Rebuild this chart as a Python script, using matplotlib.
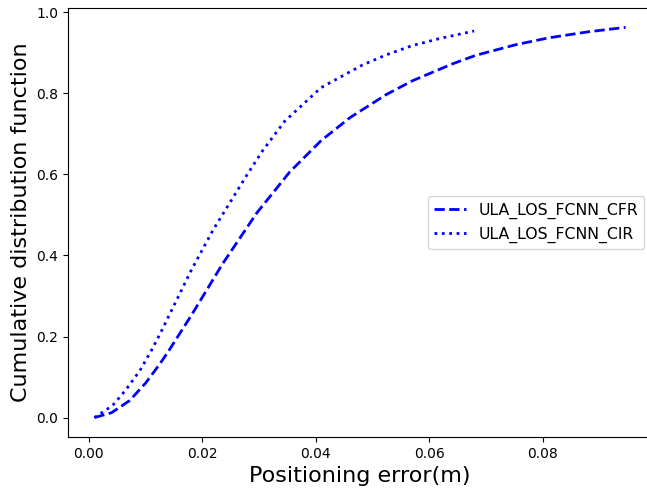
import matplotlib
matplotlib.use('Agg')
import matplotlib.pyplot as plt
import numpy as np

# CDF curves (positioning error in m, cdf value)
cfr_err = [0.0010, 0.0040, 0.0072, 0.0100, 0.0125, 0.0140, 0.0181, 0.0236, 0.0296,
           0.0354, 0.0409, 0.0460, 0.0524, 0.0570, 0.0641, 0.0682, 0.0752, 0.0810,
           0.0880, 0.0946]
cfr_cdf = [0.000, 0.012, 0.042, 0.085, 0.132, 0.163, 0.253, 0.380, 0.505,
           0.606, 0.683, 0.740, 0.797, 0.831, 0.873, 0.894, 0.920, 0.937,
           0.952, 0.963]

cir_err = [0.0010, 0.0042, 0.0065, 0.0090, 0.0110, 0.0125, 0.0160, 0.0181, 0.0219,
           0.0248, 0.0277, 0.0306, 0.0345, 0.0409, 0.0482, 0.0524, 0.0570, 0.0620,
           0.0679]
cir_cdf = [0.000, 0.030, 0.068, 0.116, 0.165, 0.205, 0.305, 0.365, 0.463,
           0.529, 0.595, 0.658, 0.731, 0.814, 0.870, 0.895, 0.918, 0.936,
           0.954]

fig = plt.figure(figsize=(6.47, 4.9), dpi=100)
ax = fig.add_axes([0.105, 0.108, 0.903, 0.876])
ax.plot(cfr_err, cfr_cdf, 'b--', linewidth=2, label='ULA_LOS_FCNN_CFR')
ax.plot(cir_err, cir_cdf, 'b:', linewidth=2, label='ULA_LOS_FCNN_CIR')
ax.set_xlabel('Positioning error(m)', fontsize=16)
ax.set_ylabel('Cumulative distribution function', fontsize=16)
ax.legend(loc='center right', fontsize=11.3)
fig.savefig('out.png', dpi=100)
